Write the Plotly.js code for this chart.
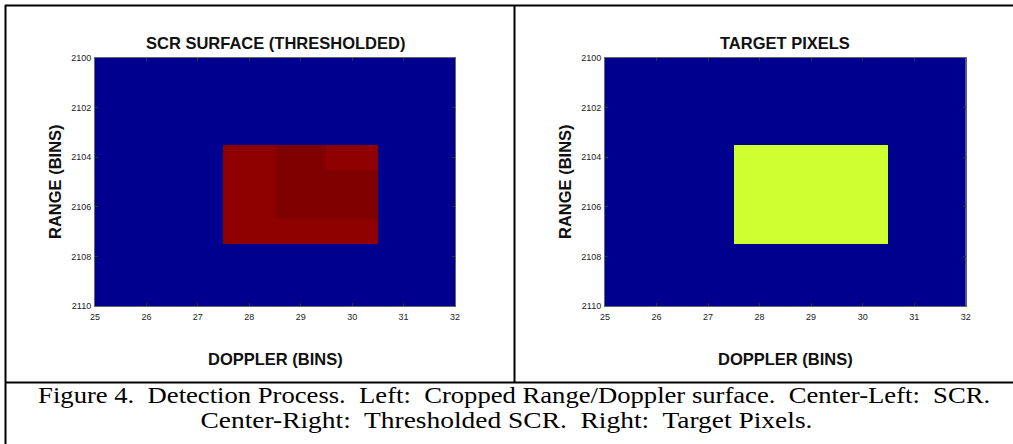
<!DOCTYPE html>
<html>
<head>
<meta charset="utf-8">
<script src="https://cdn.plot.ly/plotly-3.0.1.min.js"></script>
<style>
  html, body { margin: 0; padding: 0; background: #fff; }
  #chart { width: 1013px; height: 444px; }
</style>
</head>
<body>
<div id="chart"></div>
<script>
// ---- data ----
const dopplerBins = [25, 26, 27, 28, 29, 30, 31, 32];
const rangeBins = [2100, 2101, 2102, 2103, 2104, 2105, 2106, 2107, 2108, 2109, 2110];

// thresholded SCR surface (rows = range bins, cols = doppler bins)
const scrThresholded = [
  [0, 0, 0, 0,    0,    0,    0, 0],
  [0, 0, 0, 0,    0,    0,    0, 0],
  [0, 0, 0, 0,    0,    0,    0, 0],
  [0, 0, 0, 0,    0,    0,    0, 0],
  [0, 0, 0, 19.7, 20.0, 19.7, 0, 0],
  [0, 0, 0, 19.7, 20.0, 20.0, 0, 0],
  [0, 0, 0, 19.7, 20.0, 20.0, 0, 0],
  [0, 0, 0, 19.7, 19.7, 19.7, 0, 0],
  [0, 0, 0, 0,    0,    0,    0, 0],
  [0, 0, 0, 0,    0,    0,    0, 0],
  [0, 0, 0, 0,    0,    0,    0, 0]
];

// target pixel mask
const targetPixels = [
  [0, 0, 0, 0, 0, 0, 0, 0],
  [0, 0, 0, 0, 0, 0, 0, 0],
  [0, 0, 0, 0, 0, 0, 0, 0],
  [0, 0, 0, 0, 0, 0, 0, 0],
  [0, 0, 0, 1, 1, 1, 0, 0],
  [0, 0, 0, 1, 1, 1, 0, 0],
  [0, 0, 0, 1, 1, 1, 0, 0],
  [0, 0, 0, 1, 1, 1, 0, 0],
  [0, 0, 0, 0, 0, 0, 0, 0],
  [0, 0, 0, 0, 0, 0, 0, 0],
  [0, 0, 0, 0, 0, 0, 0, 0]
];

const xTickVals = [25, 26, 27, 28, 29, 30, 31, 32];
const yTickVals = [2100, 2102, 2104, 2106, 2108, 2110];

const panelTitles = ['SCR SURFACE (THRESHOLDED)', 'TARGET PIXELS'];
const xAxisLabel = 'DOPPLER (BINS)';
const yAxisLabel = 'RANGE (BINS)';
const captionLines = [
  'Figure 4.\u00A0 Detection Process.\u00A0 Left:\u00A0 Cropped Range/Doppler surface.\u00A0 Center-Left:\u00A0 SCR.',
  'Center-Right:\u00A0 Thresholded SCR.\u00A0 Right:\u00A0 Target Pixels.'
];

// ---- layout helpers (pixel -> paper) ----
const W = 1013, H = 444;
const px = v => v / W;
const py = v => 1 - v / H;

const jet = [
  [0, 'rgb(0,0,143)'], [0.125, 'rgb(0,0,255)'], [0.375, 'rgb(0,255,255)'],
  [0.625, 'rgb(255,255,0)'], [0.875, 'rgb(255,0,0)'], [1, 'rgb(128,0,0)']
];

const traces = [
  {
    type: 'heatmap', x: dopplerBins, y: rangeBins, z: scrThresholded,
    colorscale: jet, zmin: 0, zmax: 20, showscale: false,
    xaxis: 'x', yaxis: 'y', hoverinfo: 'skip'
  },
  {
    type: 'heatmap', x: dopplerBins, y: rangeBins, z: targetPixels,
    colorscale: jet, zmin: 0, zmax: 1.73, showscale: false,
    xaxis: 'x2', yaxis: 'y2', hoverinfo: 'skip'
  }
];

const tickFont = { family: 'Liberation Sans, Arial, sans-serif', size: 9, color: '#222' };
function xa(domain, anchor) {
  return {
    domain: domain, anchor: anchor, range: [25, 32], tickmode: 'array', tickvals: xTickVals,
    ticks: 'inside', ticklen: 3, tickcolor: '#333', tickwidth: 1,
    showline: true, linecolor: '#666', linewidth: 1, mirror: 'allticks',
    showgrid: false, zeroline: false, tickfont: tickFont, ticklabelstandoff: 2, fixedrange: true
  };
}
function ya(domain, anchor) {
  return {
    domain: domain, anchor: anchor, range: [2110, 2100], tickmode: 'array', tickvals: yTickVals,
    ticks: 'inside', ticklen: 3, tickcolor: '#333', tickwidth: 1,
    showline: true, linecolor: '#666', linewidth: 1, mirror: 'allticks',
    showgrid: false, zeroline: false, tickfont: tickFont, ticklabelstandoff: 1, fixedrange: true
  };
}

const yDom = [py(306), py(58)];
const labelFont = { family: 'Liberation Sans, Arial, sans-serif', size: 16.5, color: '#111', weight: 'bold' };
const captionFont = { family: 'Liberation Serif, Times New Roman, serif', size: 23, color: '#000' };

const panels = [
  { x0: 95, x1: 455, ylab: 55 },
  { x0: 605, x1: 965.7, ylab: 565 }
];

const annotations = [];
panels.forEach((p, i) => {
  const cx = (p.x0 + p.x1) / 2;
  annotations.push({ text: '<b>' + panelTitles[i] + '</b>', xref: 'paper', yref: 'paper', x: px(cx), y: py(43),
    xanchor: 'center', yanchor: 'middle', showarrow: false, font: labelFont });
  annotations.push({ text: '<b>' + xAxisLabel + '</b>', xref: 'paper', yref: 'paper', x: px(cx), y: py(359),
    xanchor: 'center', yanchor: 'middle', showarrow: false, font: labelFont });
  annotations.push({ text: '<b>' + yAxisLabel + '</b>', xref: 'paper', yref: 'paper', x: px(p.ylab), y: py(182),
    xanchor: 'center', yanchor: 'middle', showarrow: false, textangle: -90, font: labelFont });
});
// caption lines: [centre x, centre y, target width] in px
const captionGeom = [[514, 395, 952], [506, 420, 612]];
captionLines.forEach((t, i) => {
  annotations.push({ text: t, xref: 'paper', yref: 'paper', x: px(captionGeom[i][0]), y: py(captionGeom[i][1]),
    xanchor: 'center', yanchor: 'middle', showarrow: false, font: captionFont, name: 'caption' + i });
});

const lineStyle = { color: '#000', width: 2 };
const shapes = [
  { type: 'line', xref: 'paper', yref: 'paper', x0: px(5), x1: px(1013), y0: py(5.5), y1: py(5.5), line: lineStyle },
  { type: 'line', xref: 'paper', yref: 'paper', x0: px(5.5), x1: px(5.5), y0: py(5), y1: py(444), line: lineStyle },
  { type: 'line', xref: 'paper', yref: 'paper', x0: px(514.5), x1: px(514.5), y0: py(5), y1: py(382.5), line: lineStyle },
  { type: 'line', xref: 'paper', yref: 'paper', x0: px(5), x1: px(1013), y0: py(382.5), y1: py(382.5), line: lineStyle }
];

const layout = {
  width: W, height: H,
  margin: { l: 0, r: 0, t: 0, b: 0, pad: 0 },
  paper_bgcolor: '#fff', plot_bgcolor: '#fff',
  showlegend: false,
  xaxis: xa([px(95), px(455)], 'y'),
  yaxis: ya(yDom, 'x'),
  xaxis2: xa([px(605), px(965.7)], 'y2'),
  yaxis2: ya(yDom, 'x2'),
  annotations: annotations,
  shapes: shapes
};

Plotly.newPlot('chart', traces, layout, { staticPlot: true, displayModeBar: false }).then(gd => {
  // the printed caption is set wider than the plain font; stretch each line to its measured width
  const texts = gd.querySelectorAll('.annotation-text');
  const n = annotations.length;
  texts.forEach((el, idx) => {
    const k = idx - (n - captionLines.length);
    if (k >= 0) {
      el.setAttribute('textLength', captionGeom[k][2]);
      el.setAttribute('lengthAdjust', 'spacingAndGlyphs');
    }
  });
});
</script>
</body>
</html>
